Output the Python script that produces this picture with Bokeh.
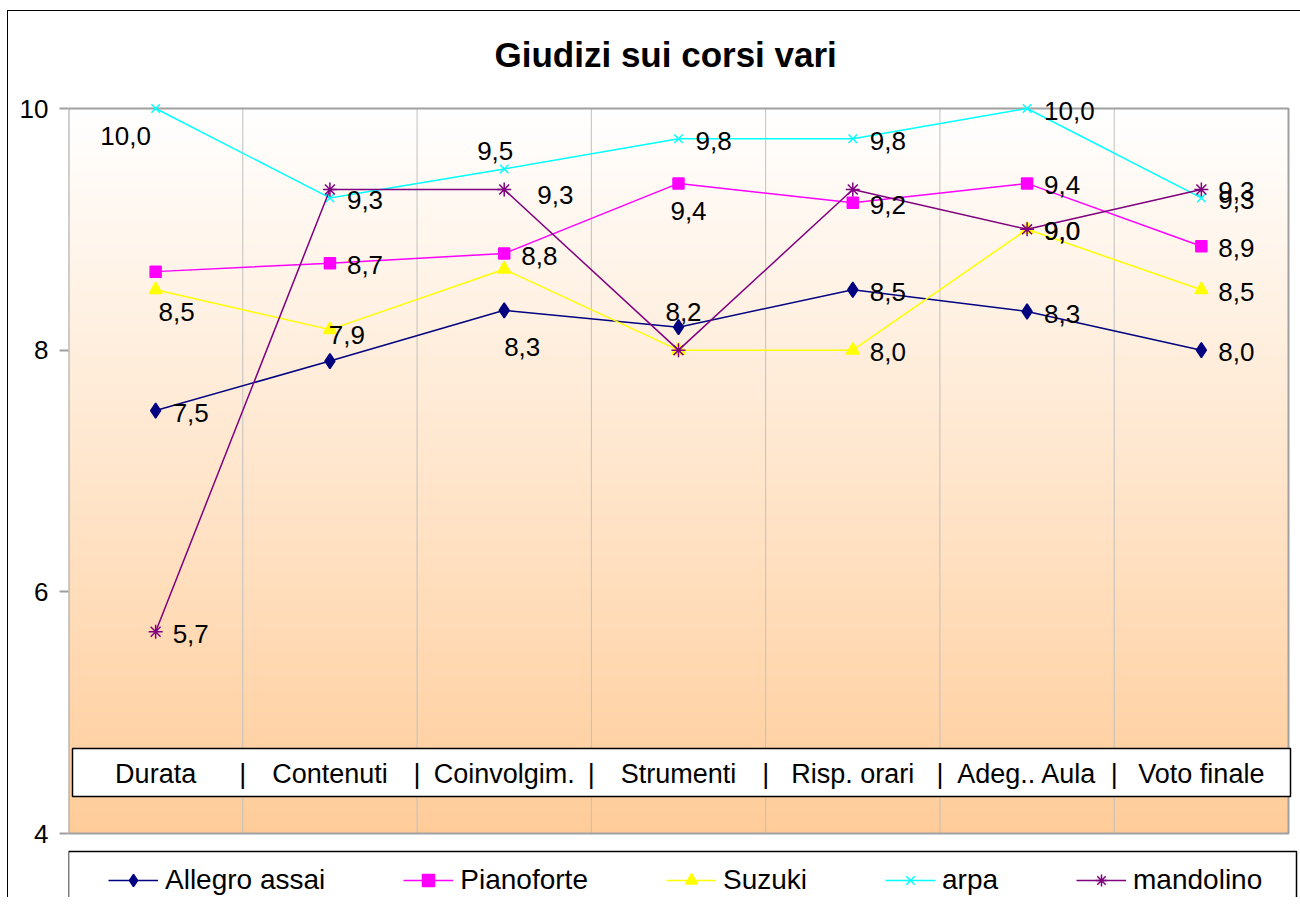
from decimal import Decimal, ROUND_HALF_UP

from bokeh.plotting import figure
from bokeh.models import Range1d, FixedTicker, Legend, LegendItem, ColumnDataSource
from bokeh.core.properties import value
from bokeh.embed import file_html
from bokeh.resources import INLINE

# ---------------- data ----------------
title_text = "Giudizi sui corsi vari"
categories = ["Durata", "Contenuti", "Coinvolgim.", "Strumenti",
              "Risp. orari", "Adeg.. Aula", "Voto finale"]
allegro_assai = [7.5, 7.91, 8.33, 8.19, 8.5, 8.32, 8.0]
pianoforte = [8.65, 8.72, 8.8, 9.38, 9.22, 9.38, 8.86]
suzuki = [8.5, 8.17, 8.67, 8.0, 8.0, 9.0, 8.5]
arpa = [10.0, 9.26, 9.5, 9.75, 9.75, 10.0, 9.26]
mandolino = [5.67, 9.33, 9.33, 8.0, 9.33, 9.0, 9.33]
y_ticks = [4, 6, 8, 10]

# ---------------- styles ----------------
FONT = "Liberation Sans"
series = [
    # name, values, color, marker, size, label placement per category
    ("Allegro assai", allegro_assai, "#000080", "diamond", 15,
     ["r", "a3", "b1", "a2", "r", "r", "r"]),
    ("Pianoforte", pianoforte, "#FF00FF", "square", 11,
     [None, "r", "r", "b2", "r", "r", "r"]),
    ("Suzuki", suzuki, "#FFFF00", "triangle", 13,
     ["br", None, None, None, "r", "r", "r"]),
    ("arpa", arpa, "#00FFFF", "x", 12,
     ["bl", "r", "a1", "r", "r", "r", "r"]),
    ("mandolino", mandolino, "#800080", "asterisk", 14,
     ["r", None, "r2", None, None, "r", "r"]),
]
PLACE = {  # align, dx, dy (screen px, dy positive = down)
    "r": ("left", 17, 2),
    "r2": ("left", 33, 6),
    "bl": ("center", -30, 27),
    "br": ("center", 21, 22),
    "b1": ("center", 18, 37),
    "b2": ("center", 10, 28),
    "a1": ("center", -9, -18),
    "a2": ("center", 5, -15),
    "a3": ("center", 17, -26),
}

# ---------------- layout (image pixel constants) ----------------
OFF_X, OFF_Y = 7, 10              # canvas origin inside the page (outer chart border)
FRAME_T, FRAME_B, FRAME_R = 78, 897, 1300
FIG_W, FIG_H = FRAME_R - OFF_X, FRAME_B - OFF_Y
PLOT_L, PLOT_R, PLOT_T, PLOT_B = 68, 1288, 108, 833
YMIN, YMAX = min(y_ticks), max(y_ticks)
NCAT = len(categories)
KX = (PLOT_R - PLOT_L) / NCAT
KY = (PLOT_B - PLOT_T) / (YMAX - YMIN)


def x_of(px):
    return -0.5 + (px - PLOT_L) / KX


def y_of(px):
    return YMAX - (px - PLOT_T) / KY


def fmt(v):
    return str(Decimal(str(v)).quantize(Decimal("0.1"), rounding=ROUND_HALF_UP)).replace(".", ",")


p = figure(width=FIG_W, height=FIG_H,
           x_range=Range1d(x_of(PLOT_L), x_of(FRAME_R)),
           y_range=Range1d(y_of(FRAME_B), y_of(FRAME_T)),
           min_border_left=PLOT_L - OFF_X, min_border_right=0,
           min_border_top=FRAME_T - OFF_Y, min_border_bottom=0,
           x_axis_location=None, toolbar_location=None, output_backend="svg",
           title=title_text)
# outer chart border (left and top edges), painted behind a transparent border area
p.styles = {"margin-left": "%dpx" % OFF_X, "margin-top": "%dpx" % OFF_Y,
            "background-color": "#FFFFFF",
            "background-image": "linear-gradient(#000000, #000000), linear-gradient(#000000, #000000)",
            "background-size": "1px 100%, 100% 1px",
            "background-position": "0 0, 0 0",
            "background-repeat": "no-repeat"}
p.grid.visible = False
p.outline_line_color = None
p.background_fill_color = "white"
p.border_fill_color = None

p.title.text_font = FONT
p.title.text_font_size = "35px"
p.title.text_font_style = "bold"
p.title.text_color = "black"
p.title.align = "left"
p.title.text_line_height = 0.77
p.title.offset = 494 - PLOT_L

ya = p.yaxis[0]
ya.ticker = FixedTicker(ticks=y_ticks)
ya.axis_line_color = None
ya.major_tick_line_color = "#A0A0A0"
ya.major_tick_line_width = 2
ya.major_tick_out = 9
ya.major_tick_in = 0
ya.minor_tick_line_color = None
ya.major_label_text_font = FONT
ya.major_label_text_font_size = "26px"
ya.major_label_text_color = "black"
ya.major_label_standoff = 11

# gradient background of plot area (white -> light orange)
N = 150
bot, top, cols = [], [], []
for i in range(N):
    b = YMIN + (YMAX - YMIN) * i / N
    t = YMIN + (YMAX - YMIN) * (i + 1) / N
    f = (YMAX - (b + t) / 2) / (YMAX - YMIN)
    g = round(255 - f * (255 - 204))
    bl = round(255 - f * (255 - 153))
    bot.append(b)
    top.append(min(YMAX, t + 0.01))
    cols.append("#%02X%02X%02X" % (255, g, bl))
p.quad(left=-0.5, right=NCAT - 0.5, bottom=bot, top=top, fill_color=cols, line_color=None)

# vertical gridlines at category boundaries
bounds = [i + 0.5 for i in range(NCAT - 1)]
p.segment(x0=bounds, x1=bounds, y0=YMIN, y1=YMAX, line_color="#C0C0C0", line_width=1)

# plot area border
p.quad(left=-0.5, right=NCAT - 0.5, bottom=YMIN, top=YMAX, fill_color=None,
       line_color="#A0A0A0", line_width=2)

# category label box
p.quad(left=x_of(72), right=x_of(1290), top=y_of(748), bottom=y_of(796),
       fill_color="white", line_color="black", line_width=1.5)
p.text(x=list(range(NCAT)), y=y_of(773), text=categories,
       text_font=value(FONT), text_font_size="27px", text_align="center",
       text_baseline="middle", text_color="black")
p.text(x=bounds, y=y_of(773), text=["|"] * len(bounds),
       text_font=value(FONT), text_font_size="27px", text_align="center",
       text_baseline="middle", text_color="black")

# legend box
p.quad(left=-0.5, right=x_of(1296), top=y_of(851), bottom=y_of(960),
       fill_color="white", line_color="black", line_width=1.5)

items = []
xs = list(range(NCAT))
for name, vals, color, marker, size, places in series:
    src = ColumnDataSource(dict(x=xs, y=vals))
    lr = p.line("x", "y", source=src, line_color=color, line_width=1.5)
    sr = p.scatter("x", "y", source=src, marker=marker, size=size,
                   fill_color=color, line_color=color, line_width=1.5)
    items.append(LegendItem(label=name, renderers=[lr, sr]))

# data labels
for align in ("left", "center"):
    lx, ly, lt, dx, dy = [], [], [], [], []
    for name, vals, color, marker, size, places in series:
        for i, (v, pl) in enumerate(zip(vals, places)):
            if pl is None or PLACE[pl][0] != align:
                continue
            lx.append(i)
            ly.append(v)
            lt.append(fmt(v))
            dx.append(PLACE[pl][1])
            dy.append(PLACE[pl][2])
    src = ColumnDataSource(dict(x=lx, y=ly, t=lt, dx=dx, dy=dy))
    p.text(x="x", y="y", text="t", x_offset="dx", y_offset="dy", source=src,
           text_font=value(FONT), text_font_size="26px", text_align=align,
           text_baseline="middle", text_color="black")

# legend item centre sits at image y ~880
legend = Legend(items=items, orientation="horizontal", location=(40, FRAME_B - 896),
                padding=0, spacing=78, glyph_width=50, glyph_height=30,
                label_standoff=7, label_height=26,
                border_line_color=None, background_fill_alpha=0,
                label_text_font=FONT, label_text_font_size="28px",
                label_text_color="black")
p.add_layout(legend, "center")

open("out.html", "w").write(file_html(p, INLINE))
